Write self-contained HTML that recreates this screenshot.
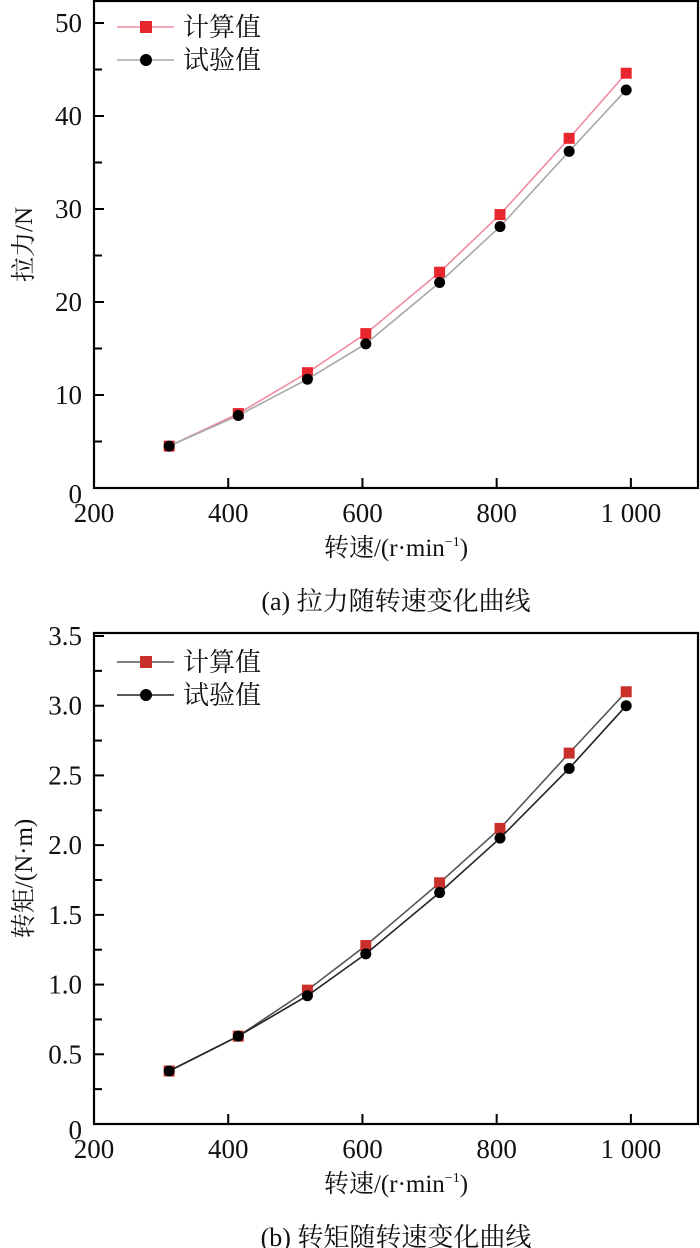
<!DOCTYPE html>
<html><head><meta charset="utf-8"><style>
body{margin:0;background:#fff;width:700px;height:1248px;overflow:hidden}
svg{display:block}
text{font-family:"Liberation Serif","Noto Serif CJK SC",serif;fill:#111}
</style></head><body>
<svg id="svg" width="700" height="1248" xmlns="http://www.w3.org/2000/svg"></svg>
<script>
const speeds=[312,415,518,605,715,805,908,993];
const forceCalc=[4.5,8.0,12.4,16.6,23.2,29.4,37.6,44.6];
const forceTest=[4.5,7.8,11.7,15.5,22.1,28.1,36.2,42.8];
const torqueCalc=[0.38,0.63,0.96,1.28,1.73,2.12,2.66,3.10];
const torqueTest=[0.38,0.63,0.92,1.22,1.66,2.05,2.55,3.00];
const xTicks=[200,400,600,800,1000];
const xTickLabels=["200","400","600","800","1 000"];
const forceTicks=[0,10,20,30,40,50];
const torqueTicks=[0,0.5,1.0,1.5,2.0,2.5,3.0,3.5];
const torqueTickLabels=["0","0.5","1.0","1.5","2.0","2.5","3.0","3.5"];

const NS="http://www.w3.org/2000/svg";
const svg=document.getElementById('svg');
function mk(t,a,p){const e=document.createElementNS(NS,t);for(const k in a)e.setAttribute(k,a[k]);(p||svg).appendChild(e);return e;}

function chart(o){
  const g=mk('g',{});
  
  
  const L=94,R=698,T=o.top,B=o.bottom;
  const xs=v=>L+(v-200)/(1100-200)*(R-L);
  const ys=v=>B-(v-o.ymin)/(o.ymax-o.ymin)*(B-o.y0top);
  const box=mk('rect',{x:L,y:T,width:R-L,height:B-T,fill:'none',stroke:'#000','stroke-width':2.2},g);
  
  
  xTicks.forEach((v,i)=>{
    const x=xs(v);
    if(i>0){const t=mk('line',{x1:x,x2:x,y1:B,y2:B-10,stroke:'#000','stroke-width':2},g);
    }
    const tx=mk('text',{x:x,y:B+34,'font-size':27,'text-anchor':'middle'},g);tx.textContent=xTickLabels[i];
    
    
  });
  o.ticks.forEach((v,i)=>{
    const y=ys(v);
    if(i>0){const t=mk('line',{x1:L,x2:L+10,y1:y,y2:y,stroke:'#000','stroke-width':2},g);
    }
    if(i<o.ticks.length-1){const m=ys(v+o.step/2);
    const t2=mk('line',{x1:L,x2:L+8,y1:m,y2:m,stroke:'#000','stroke-width':2},g);
    }
    const tx=mk('text',{x:L-12,y:y+9-(i==0?-6:0),'font-size':27,'text-anchor':'end'},g);tx.textContent=o.labels[i];
    
    
  });
  const xt=mk('text',{x:396,y:B+68,'font-size':25,'text-anchor':'middle'},g);
  xt.innerHTML='转速/(r·min<tspan font-size="14" dy="-10">−1</tspan><tspan dy="10">)</tspan>';
  
  
  const yt=mk('text',{x:0,y:0,'font-size':25,'text-anchor':'middle',transform:`translate(32,${(T+B)/2}) rotate(-90)`},g);
  yt.textContent=o.ytitle;
  
  
  const cap=mk('text',{x:396,y:B+122,'font-size':26,'text-anchor':'middle'},g);
  cap.textContent=o.caption;
  
  
  function series(vals,color,shape,name){
    const sg=mk('g',{},g);
    
    
    let d='';speeds.forEach((s,i)=>{d+=(i?'L':'M')+xs(s)+','+ys(vals[i]);});
    mk('path',{d:d,fill:'none',stroke:color,'stroke-width':1.6},sg);
    speeds.forEach((s,i)=>{
      const x=xs(s),y=ys(vals[i]);let m;
      if(shape=='sq')m=mk('rect',{x:x-5.5,y:y-5.5,width:11,height:11,fill:o.sqFill},sg);
      else m=mk('circle',{cx:x,cy:y,r:5.5,fill:'#000'},sg);
      
      
    });
  }
  series(o.calc,o.calcLine,'sq','series-calculated');
  series(o.test,o.testLine,'ci','series-test');
  const lg=mk('g',{},g);
  
  
  [[o.calcLine,'sq','计算值',o.leg1],[o.testLine,'ci','试验值',o.leg1+33]].forEach(e=>{
    const ly=e[3];
    mk('line',{x1:117,x2:174,y1:ly,y2:ly,stroke:e[0],'stroke-width':1.6},lg);
    if(e[1]=='sq')mk('rect',{x:140,y:ly-6,width:12,height:12,fill:o.sqFill},lg);
    else mk('circle',{cx:146,cy:ly,r:6,fill:'#000'},lg);
    const t=mk('text',{x:183,y:ly+9,'font-size':26,'font-family':'"Noto Sans CJK SC",sans-serif'},lg);
    t.textContent=e[2];
    
    
  });
}
chart({name:'force-chart',top:1,bottom:488,y0top:23,ymin:0,ymax:50,ticks:forceTicks,labels:forceTicks.map(String),step:10,
  calc:forceCalc,test:forceTest,calcLine:'#f08ca0',testLine:'#a8a8a8',sqFill:'#e8262e',leg1:27,
  ytitle:'拉力/N',caption:'(a) 拉力随转速变化曲线'});
chart({name:'torque-chart',top:633,bottom:1124,y0top:636,ymin:0,ymax:3.5,ticks:torqueTicks,labels:torqueTickLabels,step:0.5,
  calc:torqueCalc,test:torqueTest,calcLine:'#555',testLine:'#222',sqFill:'#c9302c',leg1:662,
  ytitle:'转矩/(N·m)',caption:'(b) 转矩随转速变化曲线'});
</script>
</body></html>
